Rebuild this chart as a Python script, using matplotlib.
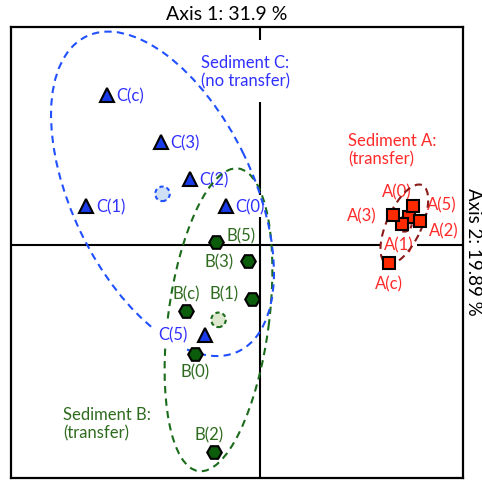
import numpy as np
import matplotlib

matplotlib.use("Agg")

import matplotlib.pyplot as plt
from matplotlib.patches import Ellipse

plt.rcParams["font.family"] = "Lato"

# PCoA scores per sediment sample (axis 1, axis 2)
a_names = ["A(0)", "A(1)", "A(2)", "A(3)", "A(5)", "A(c)"]
a_ax1 = [1.49, 1.42, 1.60, 1.33, 1.53, 1.29]
a_ax2 = [0.28, 0.21, 0.24, 0.30, 0.39, -0.18]

b_names = ["B(0)", "B(1)", "B(2)", "B(3)", "B(5)", "B(c)"]
b_ax1 = [-0.65, -0.08, -0.46, -0.12, -0.44, -0.74]
b_ax2 = [-1.09, -0.54, -2.07, -0.16, 0.03, -0.66]

c_names = ["C(0)", "C(1)", "C(2)", "C(3)", "C(5)", "C(c)"]
c_ax1 = [-0.34, -1.74, -0.70, -0.99, -0.55, -1.53]
c_ax2 = [0.39, 0.39, 0.66, 1.03, -0.90, 1.50]

group_titles = ["Sediment A:\n(transfer)", "Sediment B:\n(transfer)", "Sediment C:\n(no transfer)"]
axis_titles = ["Axis 1: 31.9 %", "Axis 2: 19.89 %"]

# label placement: offset in pixels, alignment
LABEL_POS = {
    "A(0)": (-12, 26, "center"), "A(1)": (-3, -20, "center"), "A(2)": (9, -9, "left"),
    "A(3)": (-16, 0, "right"), "A(5)": (14, 2, "left"), "A(c)": (0, -20, "center"),
    "B(0)": (0, -17, "center"), "B(1)": (-13, 6, "right"), "B(2)": (-5, 18, "center"),
    "B(3)": (-14, 0, "right"), "B(5)": (10, 7, "left"), "B(c)": (0, 18, "center"),
    "C(0)": (9, 0, "left"), "C(1)": (10, 0, "left"), "C(2)": (9, 0, "left"),
    "C(3)": (9, 0, "left"), "C(5)": (-17, 1, "right"), "C(c)": (9, 0, "left"),
}
BOXED = {"A(1)": 2, "C(0)": 2, "C(5)": 4}

BLUE_TXT, GREEN_TXT, RED_TXT = "#3030ff", "#2e6b1e", "#ff2a2a"


def cov_ellipse(x, y, k, color):
    cov = np.cov(x, y)
    vals, vecs = np.linalg.eigh(cov)
    order = vals.argsort()[::-1]
    vals, vecs = vals[order], vecs[:, order]
    angle = np.degrees(np.arctan2(vecs[1, 0], vecs[0, 0]))
    w, h = 2 * k * np.sqrt(vals)
    return Ellipse((np.mean(x), np.mean(y)), w, h, angle=angle, fill=False,
                   ec=color, lw=1.5, ls=(0, (3.5, 2.5)), zorder=3)


fig = plt.figure(figsize=(4.82, 4.81), dpi=100)
ax = fig.add_axes([11 / 482, 2 / 481, 452 / 482, 451 / 481])
ax.set_xlim(-2.49, 2.03)
ax.set_ylim(-2.33, 2.18)
ax.set_xticks([])
ax.set_yticks([])
for s in ax.spines.values():
    s.set_linewidth(1.6)

ax.axhline(0, color="k", lw=1.5, zorder=1)
ax.axvline(0, color="k", lw=1.5, zorder=1)

groups = [
    (a_names, a_ax1, a_ax2, "s", 9, "#ff2a00", "#8b1a1a", RED_TXT, "#ffd0c8"),
    (b_names, b_ax1, b_ax2, "H", 10.5, "#0b5c0b", "#1a6b1a", GREEN_TXT, "#dde8cf"),
    (c_names, c_ax1, c_ax2, "^", 10, "#1a3ce8", "#2050ff", BLUE_TXT, "#d0e0f4"),
]

for names, x, y, mk, ms, fc, ec, tc, cfc in groups:
    ax.add_patch(cov_ellipse(x, y, 2.0, ec))
    ax.scatter([np.mean(x)], [np.mean(y)], s=110, facecolor=cfc, edgecolor=ec,
               linewidths=1.5, linestyles=(0, (2, 1.5)), zorder=4)
    ax.plot(x, y, ls="none", marker=mk, ms=ms, mfc=fc, mec="k", mew=1.5, zorder=5)
    for n, xi, yi in zip(names, x, y):
        dx, dy, ha = LABEL_POS[n]
        kw = {}
        z = 2.5
        if n in BOXED:
            kw["bbox"] = dict(fc="white", ec="none", pad=BOXED[n])
            z = 2 if n != "C(5)" else 3.5
        ax.annotate(n, (xi, yi), xytext=(dx, dy), textcoords="offset pixels",
                    ha=ha, va="center", color=tc, fontsize=12, zorder=z, **kw)

ax.text(0.88, 0.955, group_titles[0], color=RED_TXT, fontsize=12, ha="left",
        va="center", linespacing=1.15, zorder=2)
ax.text(-1.97, -1.785, group_titles[1], color=GREEN_TXT, fontsize=12, ha="left",
        va="center", linespacing=1.15, zorder=2)
ax.text(-0.59, 1.74, group_titles[2], color=BLUE_TXT, fontsize=12, ha="left",
        va="center", linespacing=1.15, zorder=2,
        bbox=dict(fc="white", ec="none", pad=10))

fig.text(227 / 482, 1 - 15 / 481, axis_titles[0], ha="center", va="center", fontsize=14)
fig.text(473 / 482, 1 - 252 / 481, axis_titles[1], ha="center", va="center",
         fontsize=13.5, rotation=270)

fig.savefig("out.png", dpi=100)
